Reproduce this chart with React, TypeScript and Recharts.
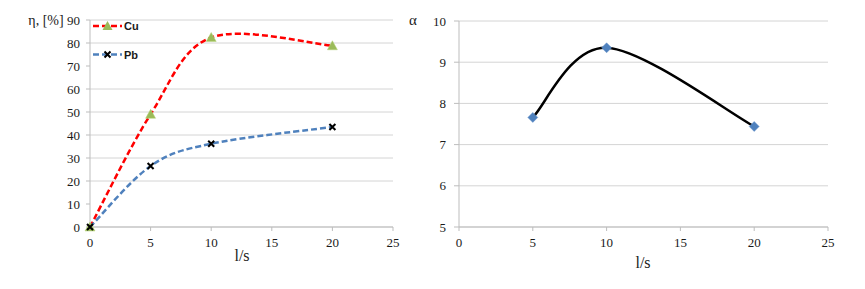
import React from 'react';
import { LineChart, Line, XAxis, YAxis, CartesianGrid } from 'recharts';

// ---- data ----
const xTicks = [0, 5, 10, 15, 20, 25];
const etaTicks = [0, 10, 20, 30, 40, 50, 60, 70, 80, 90];
const alphaTicks = [5, 6, 7, 8, 9, 10];
const lsValues = [0, 5, 10, 20];
const cuValues = [0, 49, 82.4, 78.8];
const pbValues = [0, 26.5, 36.2, 43.5];
const alphaLs = [5, 10, 20];
const alphaValues = [7.66, 9.35, 7.44];

const leftData = lsValues.map((ls, i) => ({ ls, cu: cuValues[i], pb: pbValues[i] }));
const rightData = alphaLs.map((ls, i) => ({ ls, alpha: alphaValues[i] }));

// Excel-like smoothed curve (Catmull-Rom → Bezier)
const smoothCurve: any = (context: any) => {
  let pts: number[][] = [];
  return {
    areaStart() {},
    areaEnd() {},
    lineStart() {
      pts = [];
    },
    point(x: number, y: number) {
      pts.push([+x, +y]);
    },
    lineEnd() {
      if (!pts.length) return;
      context.moveTo(pts[0][0], pts[0][1]);
      for (let i = 0; i < pts.length - 1; i++) {
        const p0 = pts[i - 1] || pts[i];
        const p1 = pts[i];
        const p2 = pts[i + 1];
        const p3 = pts[i + 2] || p2;
        const c1x = p1[0] + (p2[0] - p0[0]) / 6;
        const c1y = p1[1] + (p2[1] - p0[1]) / 6;
        const c2x = p2[0] - (p3[0] - p1[0]) / 6;
        const c2y = p2[1] - (p3[1] - p1[1]) / 6;
        context.bezierCurveTo(c1x, c1y, c2x, c2y, p2[0], p2[1]);
      }
    },
  };
};

const GRID = '#d4d4d4';
const AXIS = '#bdbdbd';
const SERIF = 'Liberation Serif, Times New Roman, DejaVu Serif, serif';
const SANS = 'Liberation Sans, Arial, sans-serif';

const tickStyle = { fill: '#1a1a1a', fontSize: 13, style: { fontFamily: SERIF } };

const TriangleDot = (props: any) => {
  const { cx, cy, index } = props;
  if (cx == null || cy == null) return <g key={index} />;
  return (
    <path
      key={index}
      d={`M${cx},${cy - 5} L${cx + 5},${cy + 4} L${cx - 5},${cy + 4} Z`}
      fill="#9bbb59"
      stroke="#b5d27a"
      strokeWidth={0.5}
    />
  );
};

const CrossDot = (props: any) => {
  const { cx, cy, index } = props;
  if (cx == null || cy == null) return <g key={index} />;
  const s = 3;
  return (
    <path
      key={index}
      d={`M${cx - s},${cy - s} L${cx + s},${cy + s} M${cx - s},${cy + s} L${cx + s},${cy - s}`}
      stroke="#000"
      strokeWidth={2}
      fill="none"
    />
  );
};

const DiamondDot = (props: any) => {
  const { cx, cy, index } = props;
  if (cx == null || cy == null) return <g key={index} />;
  const s = 5;
  return (
    <path
      key={index}
      d={`M${cx},${cy - s} L${cx + s},${cy} L${cx},${cy + s} L${cx - s},${cy} Z`}
      fill="#4f81bd"
      stroke="#6a96cc"
      strokeWidth={0.5}
    />
  );
};

export default function App() {
  return (
    <div style={{ position: 'absolute', left: 0, top: 0, width: 865, height: 289, background: '#fff', fontFamily: SERIF }}>
      <div style={{ position: 'absolute', left: 0, top: 0 }}>
        <LineChart width={430} height={289} data={leftData} margin={{ top: 20, right: 37, bottom: 32, left: 0 }}>
          <CartesianGrid vertical={false} stroke={GRID} strokeWidth={1} />
          <XAxis
            dataKey="ls"
            type="number"
            domain={[0, 25]}
            ticks={xTicks}
            height={30}
            tick={tickStyle}
            tickSize={4}
            tickMargin={7}
            axisLine={{ stroke: AXIS }}
            tickLine={{ stroke: AXIS }}
          />
          <YAxis
            type="number"
            domain={[0, 90]}
            ticks={etaTicks}
            width={90}
            tick={tickStyle}
            tickSize={4}
            tickMargin={6}
            axisLine={{ stroke: AXIS }}
            tickLine={{ stroke: AXIS }}
          />
          <Line
            dataKey="cu"
            type={smoothCurve}
            stroke="#ff0000"
            strokeWidth={2.5}
            strokeDasharray="6 3"
            dot={TriangleDot}
            isAnimationActive={false}
          />
          <Line
            dataKey="pb"
            type={smoothCurve}
            stroke="#4f81bd"
            strokeWidth={2.5}
            strokeDasharray="6 3"
            dot={CrossDot}
            isAnimationActive={false}
          />
        </LineChart>
      </div>
      <div style={{ position: 'absolute', left: 430, top: 0 }}>
        <LineChart width={435} height={289} data={rightData} margin={{ top: 21, right: 37, bottom: 32, left: 0 }}>
          <CartesianGrid vertical={false} stroke={GRID} strokeWidth={1} />
          <XAxis
            dataKey="ls"
            type="number"
            domain={[0, 25]}
            ticks={xTicks}
            height={30}
            tick={tickStyle}
            tickSize={4}
            tickMargin={7}
            axisLine={{ stroke: AXIS }}
            tickLine={{ stroke: AXIS }}
          />
          <YAxis
            type="number"
            domain={[5, 10]}
            ticks={alphaTicks}
            width={29}
            tick={tickStyle}
            tickSize={5}
            tickMargin={8}
            axisLine={{ stroke: AXIS }}
            tickLine={{ stroke: AXIS }}
          />
          <Line
            dataKey="alpha"
            type={smoothCurve}
            stroke="#000"
            strokeWidth={2.5}
            dot={DiamondDot}
            isAnimationActive={false}
          />
        </LineChart>
      </div>
      <svg width={865} height={289} style={{ position: 'absolute', left: 0, top: 0, pointerEvents: 'none', fontFamily: SERIF }}>
        <text x={46} y={25} textAnchor="middle" fontSize={14} fill="#1a1a1a">η, [%]</text>
        <text x={413} y={25} textAnchor="middle" fontSize={15} fill="#1a1a1a">α</text>
        <text x={242} y={261} textAnchor="middle" fontSize={16} fill="#1a1a1a">l/s</text>
        <text x={643} y={268} textAnchor="middle" fontSize={16} fill="#1a1a1a">l/s</text>
        {/* legend */}
        <line x1={93} y1={26} x2={122} y2={26} stroke="#ff0000" strokeWidth={2.5} strokeDasharray="6 3" />
        <path d="M107.5,21 L112.5,30 L102.5,30 Z" fill="#9bbb59" />
        <text x={124} y={30} style={{ fontFamily: SANS }} fontWeight="bold" fontSize={11} fill="#1a1a1a">Cu</text>
        <line x1={93} y1={54.5} x2={122} y2={54.5} stroke="#4f81bd" strokeWidth={2.5} strokeDasharray="6 3" />
        <path d="M104.5,51.5 L110.5,57.5 M104.5,57.5 L110.5,51.5" stroke="#000" strokeWidth={2} />
        <text x={124} y={58.5} style={{ fontFamily: SANS }} fontWeight="bold" fontSize={11} fill="#1a1a1a">Pb</text>
      </svg>
    </div>
  );
}
